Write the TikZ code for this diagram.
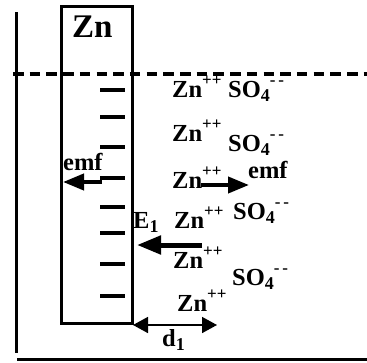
\documentclass[tikz,border=0pt]{standalone}
\usepackage{fontspec}
\setmainfont{Liberation Serif}
\usetikzlibrary{arrows.meta}
\newcommand\upsc[1]{\raisebox{0.45em}{\fontsize{17}{17}\selectfont #1}}
\newcommand\dnsc[1]{\raisebox{-0.2em}{\fontsize{18}{18}\selectfont #1}}
\newcommand\zion{Zn\upsc{++}}
\newcommand\sion{SO\dnsc{4}\upsc{-\,-}}
\begin{document}
\begin{tikzpicture}[x=1pt,y=-1pt,
  txt/.style={inner sep=0pt,anchor=base west,font=\fontsize{24.5}{24.5}\selectfont\bfseries},
  big/.style={inner sep=0pt,anchor=base west,font=\fontsize{33}{33}\selectfont\bfseries},
  wall/.style={line width=3pt},
  minus/.style={line width=4pt},
  thickarrow/.style={line width=5pt,-{Triangle[length=24pt,width=18pt]}},
  emfarrow/.style={line width=4pt,-{Triangle[length=21pt,width=16pt]}},
  dimarrow/.style={line width=1.6pt,{Triangle[length=15pt,width=16pt]}-{Triangle[length=15pt,width=16pt]}}]
\useasboundingbox (0,0) rectangle (367,362);
% vessel
\coordinate (vt) at (16,12);
\coordinate (vb) at (16,353);
\coordinate (bl) at (17,359);
\coordinate (br) at (367,359);
\draw[wall] (vt) -- (vb);
\draw[wall] (bl) -- (br);
% surface
\coordinate (sl) at (13,74);
\coordinate (sr) at (367,74);
\draw[line width=3.4pt,dash pattern=on 10.5pt off 6.2pt] (sl) -- (sr);
% electrode
\node[draw,line width=3pt,minimum width=71pt,minimum height=317pt,inner sep=0pt,anchor=north west] (box) at (60,5) {};
\node[big] (zn) at (72,37) {Zn};
% charges on electrode
\foreach \yy [count=\i] in {90,117,147,178,207,233,264,296}{
  \coordinate (m\i a) at (100,\yy);
  \coordinate (m\i b) at (125,\yy);
  \draw[minus] (m\i a) -- (m\i b);
}
% ions
\node[txt] (z1) at (172,97) {\zion};
\node[txt] (s1) at (228,97) {\sion};
\node[txt] (z2) at (172,141) {\zion};
\node[txt] (s2) at (228,151) {\sion};
\node[txt] (z3) at (172,188) {\zion};
\node[txt] (z4) at (174,228) {\zion};
\node[txt] (s4) at (233,219) {\sion};
\node[txt] (z5) at (173,268) {\zion};
\node[txt] (s6) at (232,285) {\sion};
\node[txt] (z7) at (177,311) {\zion};
% emf arrows
\node[txt] (emfl) at (63,170) {emf};
\coordinate (el1) at (102,182);
\coordinate (el2) at (63,182);
\draw[emfarrow] (el1) -- (el2);
\node[txt] (emfr) at (248,178) {emf};
\coordinate (er1) at (201,185);
\coordinate (er2) at (249,185);
\draw[emfarrow] (er1) -- (er2);
% field
\node[txt] (e1) at (133,228) {E\dnsc{1}};
\coordinate (f1) at (202,245);
\coordinate (f2) at (137,245);
\draw[thickarrow] (f1) -- (f2);
% distance
\coordinate (d1a) at (133,325);
\coordinate (d1b) at (217,325);
\draw[dimarrow] (d1a) -- (d1b);
\node[txt] (d1) at (162,346) {d\dnsc{1}};
\end{tikzpicture}
\end{document}
